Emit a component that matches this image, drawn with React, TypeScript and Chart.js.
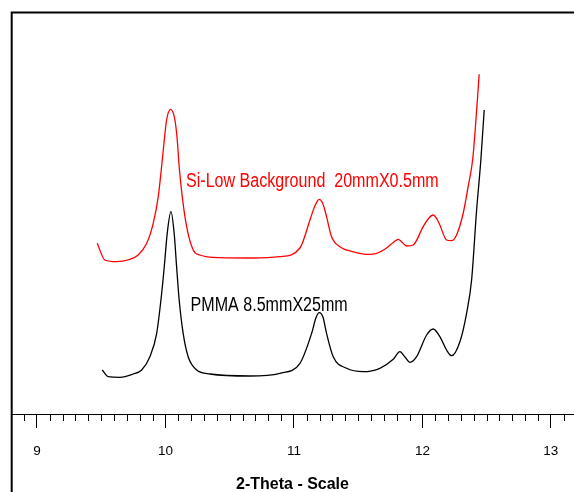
import React, { useEffect, useRef } from "react";
import { Chart, registerables } from "chart.js";

Chart.register(...registerables);

// 2-Theta positions and intensities (arbitrary counts) of the red trace
const siLowTheta = [
  9.469, 9.529, 9.62, 9.72, 9.788, 9.854, 9.905, 9.944, 9.97, 9.991, 10.009, 10.04,
  10.074, 10.092, 10.107, 10.131, 10.165, 10.216, 10.268, 10.424, 10.681, 10.891,
  11.047, 11.125, 11.163, 11.197, 11.226, 11.254, 11.293, 11.358, 11.459, 11.566,
  11.644, 11.721, 11.778, 11.812, 11.84, 11.877, 11.928, 12.006, 12.051, 12.084,
  12.113, 12.136, 12.188, 12.227, 12.266, 12.318, 12.356, 12.391, 12.409, 12.442,
];
const siLowCounts = [
  170.7, 154, 152.3, 154.5, 159, 170.7, 190.7, 217.3, 247.3, 274, 294, 304.7,
  294, 274, 247.3, 217.3, 187.3, 164, 159, 156.3, 156, 157.3,
  166, 194, 208, 214.7, 210, 197.3, 177.3, 167.3, 162.3, 159.7,
  160.7, 166, 172, 174.7, 172, 168, 169, 187.3, 196, 199,
  195, 189, 174, 173.3, 179, 201, 227.3, 254, 280.7, 339.7,
];

// 2-Theta positions and intensities of the black trace
const pmmaTheta = [
  9.508, 9.555, 9.646, 9.749, 9.815, 9.879, 9.932, 9.965, 9.991, 10.014, 10.043,
  10.068, 10.087, 10.107, 10.138, 10.177, 10.243, 10.346, 10.658, 10.891,
  11.047, 11.138, 11.171, 11.197, 11.226, 11.254, 11.306, 11.41, 11.539, 11.669,
  11.773, 11.825, 11.864, 11.903, 11.955, 12.033, 12.084, 12.136, 12.188, 12.227,
  12.292, 12.344, 12.383, 12.422, 12.455, 12.481,
];
const pmmaCounts = [
  44, 37.3, 36.7, 40, 44, 57.3, 80.7, 114, 147.3, 180.7, 202.3,
  180.7, 147.3, 114, 80.7, 57.3, 44, 40, 38, 40.7,
  50.7, 80.7, 96, 101.3, 97, 80.7, 57.3, 45.7, 42.3, 45.7,
  54.7, 62.3, 57, 51.7, 57.3, 79, 85, 77.3, 64, 58.3,
  72.3, 100.7, 134, 204, 254, 304,
];

const majorTicks = [9, 10, 11, 12, 13];
const seriesLabels = ["Si-Low Background  20mmX0.5mm", "PMMA 8.5mmX25mm"];
// label anchor positions in data units [theta, counts]
const labelTheta = [10.16, 10.196];
const labelCounts = [227.3, 103.3];

const X_MIN = 8.798;
const X_MAX = 13.18;
const Y_MIN = 0;
const Y_MAX = 402;

function zip(xs: number[], ys: number[]) {
  return xs.map((x, i) => ({ x, y: ys[i] }));
}

const decorPlugin = {
  id: "decor",
  afterDraw(chart: any) {
    const ctx = chart.ctx;
    const xs = chart.scales.x;
    const ys = chart.scales.y;
    const area = chart.chartArea;
    ctx.save();
    // frame (left and top)
    ctx.strokeStyle = "#000";
    ctx.lineWidth = 2;
    ctx.beginPath();
    ctx.moveTo(area.left + 0.7, chart.height);
    ctx.lineTo(area.left + 0.7, area.top + 0.5);
    ctx.lineTo(chart.width, area.top + 0.5);
    ctx.stroke();
    // minor ticks every 0.1
    ctx.lineWidth = 1;
    ctx.beginPath();
    for (let i = 89; i <= 131; i++) {
      const v = i / 10;
      if (i % 10 === 0) continue;
      const px = Math.round(xs.getPixelForValue(v)) + 0.5;
      ctx.moveTo(px, area.bottom);
      ctx.lineTo(px, area.bottom + 7);
    }
    ctx.stroke();
    // series labels (narrow sans)
    const colors = ["#ff0000", "#000000"];
    for (let i = 0; i < seriesLabels.length; i++) {
      const px = xs.getPixelForValue(labelTheta[i]);
      const py = ys.getPixelForValue(labelCounts[i]);
      ctx.save();
      ctx.translate(px, py);
      ctx.scale(0.82, 1);
      ctx.font = "19.6px 'Liberation Sans', Arial, sans-serif";
      ctx.fillStyle = colors[i];
      ctx.textBaseline = "alphabetic";
      ctx.textAlign = "left";
      ctx.fillText(seriesLabels[i], 0, 0);
      ctx.restore();
    }
    ctx.restore();
  },
};

export default function App() {
  const ref = useRef<HTMLCanvasElement | null>(null);
  useEffect(() => {
    if (!ref.current) return;
    const chart = new Chart(ref.current, {
      type: "line",
      data: {
        datasets: [
          {
            label: seriesLabels[0],
            data: zip(siLowTheta, siLowCounts),
            borderColor: "#ff0000",
            borderWidth: 1.3,
            pointRadius: 0,
            cubicInterpolationMode: "monotone",
          },
          {
            label: seriesLabels[1],
            data: zip(pmmaTheta, pmmaCounts),
            borderColor: "#000000",
            borderWidth: 1.3,
            pointRadius: 0,
            cubicInterpolationMode: "monotone",
          },
        ],
      },
      options: {
        animation: false,
        responsive: false,
        events: [],
        layout: { padding: { left: 11, top: 12, right: 0, bottom: 0 } },
        plugins: { legend: { display: false }, tooltip: { enabled: false } },
        scales: {
          x: {
            type: "linear",
            min: X_MIN,
            max: X_MAX,
            afterBuildTicks: (scale: any) => {
              scale.ticks = majorTicks.map((v) => ({ value: v }));
            },
            afterFit: (scale: any) => {
              scale.height = 78;
            },
            border: { display: true, color: "#000", width: 1 },
            grid: {
              drawOnChartArea: false,
              drawTicks: true,
              tickLength: 14,
              tickColor: "#000",
              tickWidth: 1,
            },
            ticks: {
              color: "#000",
              padding: 15,
              maxRotation: 0,
              font: { family: "'Liberation Sans', Arial, sans-serif", size: 13.5 },
              callback: (v: any) => String(v),
            },
            title: {
              display: true,
              text: "2-Theta - Scale",
              color: "#000",
              font: { family: "'Liberation Sans', Arial, sans-serif", size: 16, weight: "bold", lineHeight: 1 },
              padding: { top: 0, bottom: -1 },
            },
          },
          y: { display: false, min: Y_MIN, max: Y_MAX },
        },
      },
      plugins: [decorPlugin],
    });
    return () => chart.destroy();
  }, []);
  return (
    <div style={{ position: "absolute", left: 0, top: 0, width: 574, height: 492, background: "#fff" }}>
      <canvas ref={ref} width={574} height={492} />
    </div>
  );
}
